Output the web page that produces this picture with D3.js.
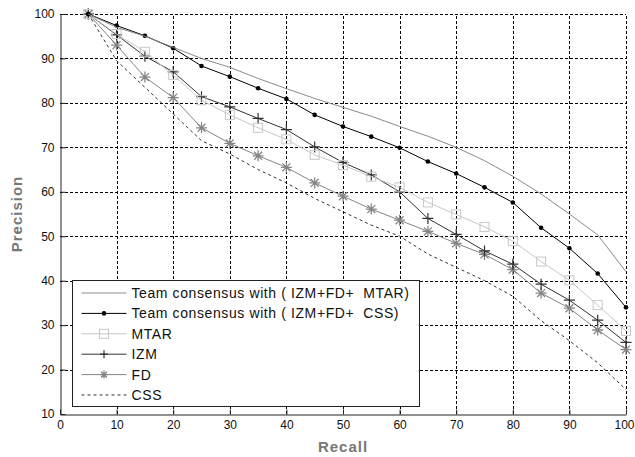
<!DOCTYPE html>
<html>
<head>
<meta charset="utf-8">
<script src="https://cdn.jsdelivr.net/npm/d3@7"></script>
<style>
  body { margin: 0; background: #fff; }
  text { font-family: "Liberation Sans", Arial, sans-serif; }
</style>
</head>
<body>
<script>
// Recall values shared by every curve
const recall = [5, 10, 15, 20, 25, 30, 35, 40, 45, 50, 55, 60, 65, 70, 75, 80, 85, 90, 95, 100];

// Precision for each method
const teamMtar = [100, 97, 95, 92.5, 90, 88, 85.5, 83.2, 81, 79, 77, 74.7, 72.5, 70, 67, 63.5, 59.5, 55, 50.3, 42];
const teamCss  = [100, 97.4, 95.1, 92.3, 88.3, 85.9, 83.3, 80.9, 77.3, 74.7, 72.4, 69.9, 66.8, 64.1, 61, 57.6, 51.9, 47.3, 41.6, 34];
const mtar     = [100, 95.5, 91.5, 86.3, 80.6, 77.3, 74.4, 71.8, 68.3, 66, 63.4, 61, 57.6, 54.9, 52.1, 48.9, 44.3, 40.1, 34.5, 28.7];
const izm      = [100, 95.3, 90.5, 87, 81.4, 79.1, 76.5, 74, 70.1, 66.6, 63.8, 60, 54, 50.4, 46.7, 43.7, 39.2, 35.6, 31.1, 26.1];
const fd       = [100, 93, 85.8, 81.2, 74.4, 70.9, 68.1, 65.5, 62, 59, 56.1, 53.6, 51.1, 48.4, 45.9, 42.5, 37.2, 33.8, 28.9, 24.5];
const css      = [100, 89.5, 83.5, 77.5, 71.5, 68.5, 65, 62, 58.5, 55.5, 52.5, 50, 46, 43, 40, 36.5, 31, 26.5, 21.5, 15.5];

const xTicks = [0, 10, 20, 30, 40, 50, 60, 70, 80, 90, 100];
const yTicks = [10, 20, 30, 40, 50, 60, 70, 80, 90, 100];

const width = 635, height = 457;
const margin = {top: 14, right: 8, bottom: 43, left: 60};

const svg = d3.select("body").append("svg")
    .attr("width", width)
    .attr("height", height);

const x = d3.scaleLinear().domain([0, 100]).range([margin.left, width - margin.right - 1]);
const y = d3.scaleLinear().domain([10, 100]).range([height - margin.bottom, margin.top]);

// dashed grid
const grid = svg.append("g").attr("stroke", "#000").attr("stroke-width", 1)
    .attr("stroke-dasharray", "3,2").attr("shape-rendering", "crispEdges");
grid.selectAll("line.v").data(xTicks.slice(1)).join("line")
    .attr("x1", d => Math.round(x(d)) + 0.5).attr("x2", d => Math.round(x(d)) + 0.5)
    .attr("y1", y(10)).attr("y2", y(100));
grid.selectAll("line.h").data(yTicks.slice(1)).join("line")
    .attr("x1", x(0)).attr("x2", x(100))
    .attr("y1", d => Math.round(y(d)) + 0.5).attr("y2", d => Math.round(y(d)) + 0.5);

// axes with inward ticks
const xAxis = svg.append("g")
    .attr("transform", "translate(0," + (Math.round(y(10)) + 0.5) + ")")
    .call(d3.axisBottom(x).tickValues(xTicks).tickSizeInner(-5).tickSizeOuter(0).tickPadding(8));
const yAxis = svg.append("g")
    .attr("transform", "translate(" + (Math.round(x(0)) + 0.5) + ",0)")
    .call(d3.axisLeft(y).tickValues(yTicks).tickSizeInner(-5).tickSizeOuter(0).tickPadding(6));
[xAxis, yAxis].forEach(a => {
  a.select(".domain").attr("stroke", "#222");
  a.selectAll(".tick line").attr("stroke", "#222");
  a.selectAll("text").attr("font-size", 12).attr("fill", "#111")
    .attr("font-family", "'Liberation Sans', Arial, sans-serif");
});
xAxis.selectAll(".tick text").attr("dy", "0.55em");
// last label sits at the window edge: nudge it in so it stays readable
xAxis.selectAll(".tick text").filter(d => d === 100).attr("text-anchor", "end").attr("x", 8);

// series table built from the arrays
const series = [
  {name: "Team consensus with ( IZM+FD+  MTAR)", values: teamMtar, color: "#8a8a8a", marker: "none"},
  {name: "Team consensus with ( IZM+FD+  CSS)", values: teamCss, color: "#000", marker: "dot"},
  {name: "MTAR", values: mtar, color: "#c8c8c8", marker: "square"},
  {name: "IZM", values: izm, color: "#333", marker: "plus"},
  {name: "FD", values: fd, color: "#858585", marker: "star"},
  {name: "CSS", values: css, color: "#333", marker: "none", dash: "3,3"}
];

const line = d3.line().x(d => x(d[0])).y(d => y(d[1]));

function drawMarker(g, type, color, size) {
  if (type === "dot") {
    g.append("circle").attr("r", 2.3).attr("fill", color);
  } else if (type === "square") {
    g.append("rect").attr("x", -size / 2).attr("y", -size / 2)
      .attr("width", size).attr("height", size)
      .attr("fill", "none").attr("stroke", color);
  } else if (type === "plus") {
    g.append("path").attr("d", `M${-size/2},0H${size/2}M0,${-size/2}V${size/2}`)
      .attr("stroke", color).attr("stroke-width", 1.2);
  } else if (type === "star") {
    const r = size / 2, q = r * 0.72;
    g.append("path")
      .attr("d", `M${-r},0H${r}M0,${-r}V${r}M${-q},${-q}L${q},${q}M${-q},${q}L${q},${-q}`)
      .attr("stroke", color).attr("stroke-width", 1.3);
  }
}

const plot = svg.append("g");
series.slice().reverse().forEach(s => {
  const pts = recall.map((r, i) => [r, s.values[i]]);
  plot.append("path").datum(pts)
    .attr("fill", "none")
    .attr("stroke", s.color)
    .attr("stroke-width", 1)
    .attr("stroke-dasharray", s.dash || null)
    .attr("d", line);
  if (s.marker !== "none") {
    pts.forEach(p => {
      const g = plot.append("g").attr("transform", `translate(${x(p[0])},${y(p[1])})`);
      drawMarker(g, s.marker, s.color, s.marker === "square" ? 9 : 11);
    });
  }
});

// legend
const lg = svg.append("g").attr("transform", "translate(72.5,280.5)");
lg.append("rect").attr("width", 347).attr("height", 126)
  .attr("fill", "#fff").attr("stroke", "#222");
series.forEach((s, i) => {
  const ly = 12.5 + i * 20.4;
  lg.append("line").attr("x1", 9).attr("x2", 54).attr("y1", ly).attr("y2", ly)
    .attr("stroke", s.color).attr("stroke-dasharray", s.dash || null);
  if (s.marker !== "none") {
    const g = lg.append("g").attr("transform", `translate(31.5,${ly})`);
    drawMarker(g, s.marker, s.color, s.marker === "square" ? 9 : 8);
  }
  lg.append("text").attr("x", 59).attr("y", ly).attr("dy", "0.36em")
    .attr("font-size", 14).attr("fill", "#111")
    .attr("letter-spacing", 0.6)
    .style("white-space", "pre")
    .text(s.name);
});

// axis titles
svg.append("text")
  .attr("x", (x(0) + x(100)) / 2).attr("y", 452)
  .attr("text-anchor", "middle")
  .attr("font-size", 15).attr("font-weight", "bold").attr("fill", "#777")
  .attr("letter-spacing", 1)
  .text("Recall");
svg.append("text")
  .attr("transform", "translate(22," + ((y(10) + y(100)) / 2) + ")rotate(-90)")
  .attr("text-anchor", "middle")
  .attr("font-size", 15).attr("font-weight", "bold").attr("fill", "#777")
  .attr("letter-spacing", 1)
  .text("Precision");
</script>
</body>
</html>
